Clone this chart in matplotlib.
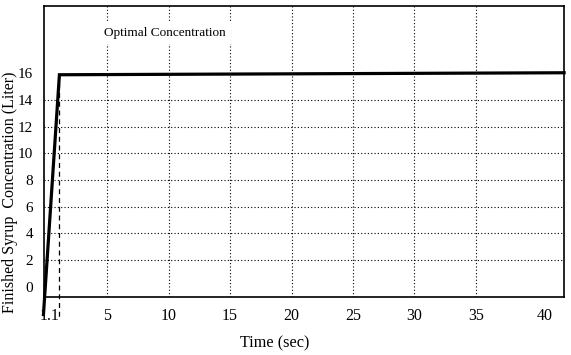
import matplotlib
matplotlib.use("Agg")
import matplotlib.pyplot as plt

# ---- data ----
time_sec = [-0.2, 1.1, 42.2]
concentration = [-2.1, 15.9, 16.05]
optimal_time = 1.1
optimal_conc = 15.9
x_ticks = [1.1, 5, 10, 15, 20, 25, 30, 35, 40]
x_tick_labels = ["1.1", "5", "10", "15", "20", "25", "30", "35", "40"]
y_ticks = [0, 2, 4, 6, 8, 10, 12, 14, 16]
y_tick_labels = ["0", "2", "4", "6", "8", "10", "12", "14", "16"]
x_grid = [5, 10, 15, 20, 25, 30, 35]
y_grid = [2, 4, 6, 8, 10, 12, 14]
annotation = "Optimal Concentration"
x_label = "Time (sec)"
y_label = "Finished Syrup  Concentration (Liter)"

plt.rcParams['font.family'] = ['Liberation Serif', 'DejaVu Serif']

W, H = 571, 355
fig = plt.figure(figsize=(W / 100, H / 100), dpi=100)
ax = fig.add_axes([44 / W, (H - 297) / H, (564 - 44) / W, (297 - 6) / H])

ax.set_xlim(-0.155, 42.19)
ax.set_ylim(-0.78, 21.06)

dot = (0, (1, 2))
for gx in x_grid:
    ax.axvline(gx, color='black', lw=0.8, linestyle=dot, zorder=1)
for gy in y_grid:
    ax.axhline(gy, color='black', lw=0.8, linestyle=dot, zorder=1)

# dashed marker line at optimum, extending below the axes
ax.plot([optimal_time, optimal_time], [optimal_conc, -2.5], color='black',
        lw=0.9, linestyle=(0, (4, 3)), clip_on=False, zorder=2)

ax.plot(time_sec, concentration, color='black', lw=2.3, clip_on=False,
        solid_joinstyle='miter', zorder=4)

ax.text(9.7, 19.05, annotation, ha='center', va='center', fontsize=9.5,
        zorder=5, bbox=dict(facecolor='white', edgecolor='none', pad=4))

ax.set_xticks(x_ticks)
ax.set_xticklabels(x_tick_labels, fontsize=11.5)
ax.set_yticks(y_ticks)
ax.set_yticklabels(y_tick_labels, fontsize=11)
ax.tick_params(length=0)
ax.tick_params(axis='x', pad=8)
ax.tick_params(axis='y', pad=8)
xt = ax.get_xticklabels()
xt[0].set_ha('right')
xt[-1].set_ha('left')

for s in ax.spines.values():
    s.set_linewidth(1.2)
    s.set_color('black')

fig.text(275 / W, 1 - 343 / H, x_label, ha='center', va='center', fontsize=11.7)
fig.text(10 / W, 1 - 192 / H, y_label, ha='center', va='center',
         rotation=90, fontsize=11.5)

fig.savefig("out.png", dpi=100, facecolor='white')
